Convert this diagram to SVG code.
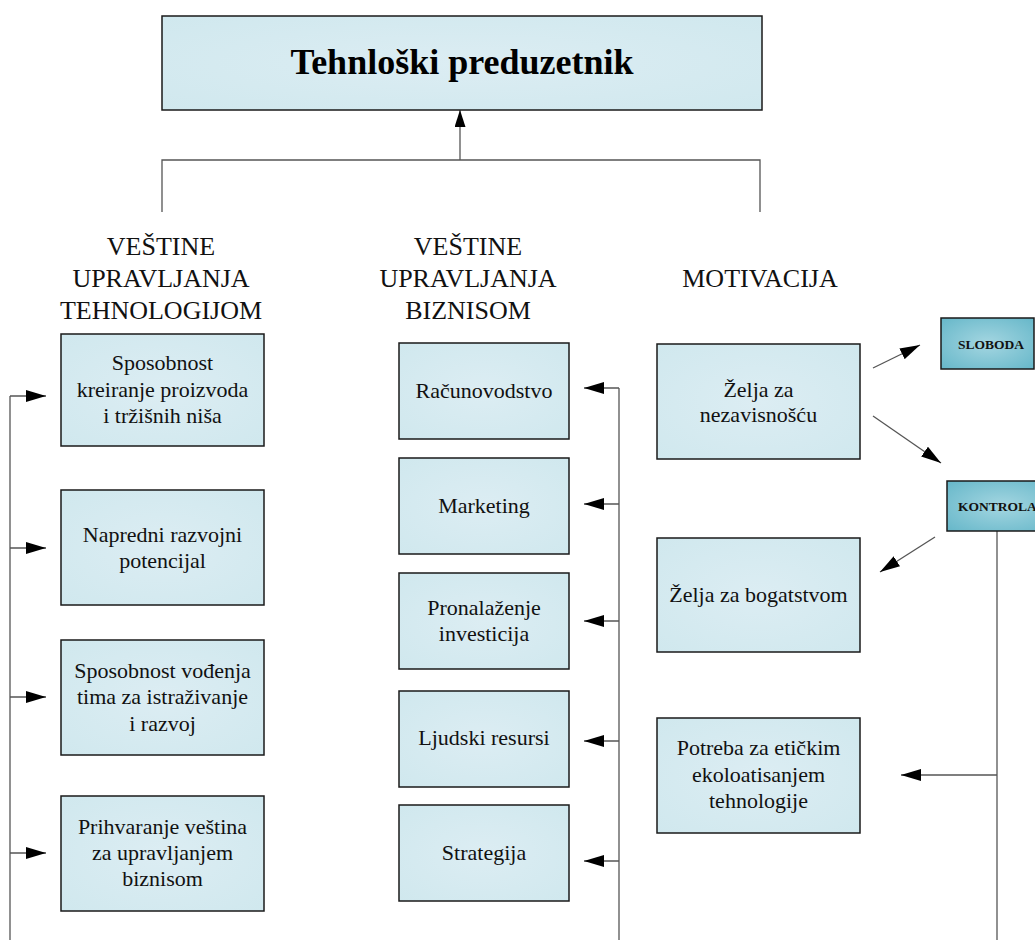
<svg xmlns="http://www.w3.org/2000/svg" width="1035" height="940" viewBox="0 0 1035 940">
  <defs>
    <radialGradient id="fillLight" cx="50%" cy="50%" r="70%">
      <stop offset="0" stop-color="#dcedf3"/>
      <stop offset="1" stop-color="#d0e8ee"/>
    </radialGradient>
    <radialGradient id="fillDark" cx="50%" cy="50%" r="70%">
      <stop offset="0" stop-color="#a4d6e1"/>
      <stop offset="1" stop-color="#66b7c9"/>
    </radialGradient>
    <marker id="arrow" viewBox="0 0 20 12" refX="20" refY="6" markerWidth="20" markerHeight="12" markerUnits="userSpaceOnUse" orient="auto">
      <path d="M0,0 L20,6 L0,12 Z" fill="#000"/>
    </marker>
    <marker id="arrowUp" viewBox="0 0 17 11" refX="17" refY="5.5" markerWidth="17" markerHeight="11" markerUnits="userSpaceOnUse" orient="auto">
      <path d="M0,0 L17,5.5 L0,11 Z" fill="#000"/>
    </marker>
  </defs>
  <style>
    .box { fill: url(#fillLight); stroke: #1a1a1a; stroke-width: 1.5; }
    .boxDark { fill: url(#fillDark); stroke: #1a1a1a; stroke-width: 1.5; }
    .txt { font-family: "Liberation Serif", "Times New Roman", serif; font-size: 22px; fill: #111; text-anchor: middle; }
    .head { font-family: "Liberation Serif", "Times New Roman", serif; font-size: 26px; fill: #111; text-anchor: middle; }
    .title { font-family: "Liberation Serif", "Times New Roman", serif; font-size: 36px; font-weight: bold; fill: #000; text-anchor: middle; }
    .small { font-family: "Liberation Serif", "Times New Roman", serif; font-size: 13.5px; font-weight: bold; fill: #111; }
    .line { fill: none; stroke: #555; stroke-width: 1.3; }
    .arr { fill: none; stroke: #555; stroke-width: 1.3; marker-end: url(#arrow); }
  </style>

  <!-- connectors -->
  <g id="connectors">
    <path class="line" d="M162,212 V160 H760 V212"/>
    <path class="line" d="M460,160 V110" marker-end="url(#arrowUp)"/>

    <!-- technology column feed -->
    <path class="line" d="M10,940 V396"/>
    <path class="arr" d="M10,396 H46"/>
    <path class="arr" d="M10,548 H46"/>
    <path class="arr" d="M10,697 H46"/>
    <path class="arr" d="M10,853 H46"/>

    <!-- business column feed -->
    <path class="line" d="M619,940 V388"/>
    <path class="arr" d="M619,388 H584"/>
    <path class="arr" d="M619,504 H584"/>
    <path class="arr" d="M619,621 H584"/>
    <path class="arr" d="M619,741 H584"/>
    <path class="arr" d="M619,861 H584"/>

    <!-- motivation links -->
    <path class="arr" d="M873,368 L920,345"/>
    <path class="arr" d="M873,416 L941,463"/>
    <path class="arr" d="M935,537 L880,572"/>
    <path class="line" d="M997,531 V940"/>
    <path class="arr" d="M997,775 H901"/>
  </g>

  <!-- top node -->
  <g id="node-top">
    <rect class="box" x="162" y="16" width="600" height="94"/>
    <text class="title" x="462" y="74">Tehnloški preduzetnik</text>
  </g>

  <!-- column headings -->
  <g id="heading-tech">
    <text class="head" x="161" y="255">VEŠTINE</text>
    <text class="head" x="161" y="287">UPRAVLJANJA</text>
    <text class="head" x="161" y="319">TEHNOLOGIJOM</text>
  </g>
  <g id="heading-biz">
    <text class="head" x="468" y="255">VEŠTINE</text>
    <text class="head" x="468" y="287">UPRAVLJANJA</text>
    <text class="head" x="468" y="319">BIZNISOM</text>
  </g>
  <g id="heading-mot">
    <text class="head" x="760" y="287">MOTIVACIJA</text>
  </g>

  <!-- technology skills -->
  <g id="node-t1">
    <rect class="box" x="61" y="334" width="203" height="112"/>
    <text class="txt" x="162.5" y="370">Sposobnost</text>
    <text class="txt" x="162.5" y="397">kreiranje proizvoda</text>
    <text class="txt" x="162.5" y="423">i tržišnih niša</text>
  </g>
  <g id="node-t2">
    <rect class="box" x="61" y="490" width="203" height="115"/>
    <text class="txt" x="162.5" y="542">Napredni razvojni</text>
    <text class="txt" x="162.5" y="568">potencijal</text>
  </g>
  <g id="node-t3">
    <rect class="box" x="61" y="640" width="203" height="115"/>
    <text class="txt" x="162.5" y="678">Sposobnost vođenja</text>
    <text class="txt" x="162.5" y="704">tima za istraživanje</text>
    <text class="txt" x="162.5" y="731">i razvoj</text>
  </g>
  <g id="node-t4">
    <rect class="box" x="61" y="796" width="203" height="115"/>
    <text class="txt" x="162.5" y="834">Prihvaranje veština</text>
    <text class="txt" x="162.5" y="860">za upravljanjem</text>
    <text class="txt" x="162.5" y="886">biznisom</text>
  </g>

  <!-- business skills -->
  <g id="node-b1">
    <rect class="box" x="399" y="343" width="170" height="96"/>
    <text class="txt" x="484" y="398">Računovodstvo</text>
  </g>
  <g id="node-b2">
    <rect class="box" x="399" y="458" width="170" height="96"/>
    <text class="txt" x="484" y="513">Marketing</text>
  </g>
  <g id="node-b3">
    <rect class="box" x="399" y="573" width="170" height="96"/>
    <text class="txt" x="484" y="615">Pronalaženje</text>
    <text class="txt" x="484" y="641">investicija</text>
  </g>
  <g id="node-b4">
    <rect class="box" x="399" y="691" width="170" height="96"/>
    <text class="txt" x="484" y="745">Ljudski resursi</text>
  </g>
  <g id="node-b5">
    <rect class="box" x="399" y="805" width="170" height="96"/>
    <text class="txt" x="484" y="860">Strategija</text>
  </g>

  <!-- motivation -->
  <g id="node-m1">
    <rect class="box" x="657" y="344" width="203" height="115"/>
    <text class="txt" x="758.5" y="397">Želja za</text>
    <text class="txt" x="758.5" y="422">nezavisnošću</text>
  </g>
  <g id="node-m2">
    <rect class="box" x="657" y="538" width="203" height="114"/>
    <text class="txt" x="758.5" y="602">Želja za bogatstvom</text>
  </g>
  <g id="node-m3">
    <rect class="box" x="657" y="718" width="203" height="115"/>
    <text class="txt" x="758.5" y="755">Potreba za etičkim</text>
    <text class="txt" x="758.5" y="782">ekoloatisanjem</text>
    <text class="txt" x="758.5" y="808">tehnologije</text>
  </g>
  <g id="node-sloboda">
    <rect class="boxDark" x="941" y="318" width="93" height="51"/>
    <text class="small" x="958" y="349">SLOBODA</text>
  </g>
  <g id="node-kontrola">
    <rect class="boxDark" x="947" y="481" width="110" height="50"/>
    <text class="small" x="958" y="511">KONTROLA</text>
  </g>
</svg>
